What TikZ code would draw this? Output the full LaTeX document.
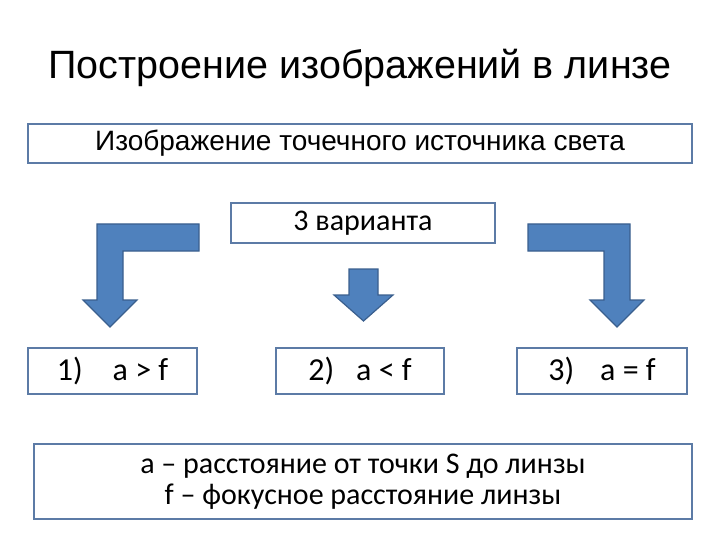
\documentclass[tikz,border=0pt]{standalone}
\usepackage{fontspec}
\setmainfont{Liberation Sans}
\newfontfamily\calib{Carlito}
\definecolor{boxline}{HTML}{5C7BA6}
\definecolor{arrfill}{HTML}{4F81BD}
\definecolor{arrline}{HTML}{3A5F8E}
\tikzset{
  framebox/.style={draw=boxline, line width=1.5pt, fill=white, inner sep=0pt},
  casebox/.style={framebox, minimum height=46pt, font={\calib\fontsize{32}{36}\selectfont}},
  bigarrow/.style={fill=arrfill, draw=arrline, line width=1.2pt, line join=miter}
}
\begin{document}
\begin{tikzpicture}[x=1pt, y=-1pt]
\useasboundingbox (0,0) rectangle (720,540);

\node[font={\fontsize{39.5}{44}\selectfont}] (title) at (360,68) {Построение изображений в линзе};
\node[framebox, minimum width=664pt, minimum height=39pt, font={\fontsize{28}{32}\selectfont}] (source) at (360,143.5) {Изображение точечного источника света};
\node[framebox, minimum width=264pt, minimum height=40pt, font={\calib\fontsize{30}{34}\selectfont}] (variants) at (363,223) {3 варианта};

% bent and straight arrows
\draw[bigarrow] (199,224) -- (97,224) -- (97,300) -- (83,300) -- (110,327) -- (137,300) -- (123,300) -- (123,251) -- (199,251) -- cycle;
\draw[bigarrow] (349,269) -- (378,269) -- (378,295) -- (393,295) -- (363.5,321) -- (334,295) -- (349,295) -- cycle;
\draw[bigarrow] (528,224) -- (630,224) -- (630,300) -- (644,300) -- (617,327) -- (590,300) -- (604,300) -- (604,251) -- (528,251) -- cycle;

\node[casebox, minimum width=169pt] (caseA) at (112.5,371) {1)\hspace{30pt}a > f};
\node[casebox, minimum width=168pt] (caseB) at (360,371) {2)\hspace{22pt}a < f};
\node[casebox, minimum width=170pt] (caseC) at (602,371) {3)\hspace{26pt}a = f};

\node[framebox, minimum width=658pt, minimum height=75pt, align=center, font={\calib\fontsize{30}{31}\selectfont}] (legend) at (363,481.5) {a – расстояние от точки S до линзы\\ f – фокусное расстояние линзы};

\end{tikzpicture}
\end{document}
